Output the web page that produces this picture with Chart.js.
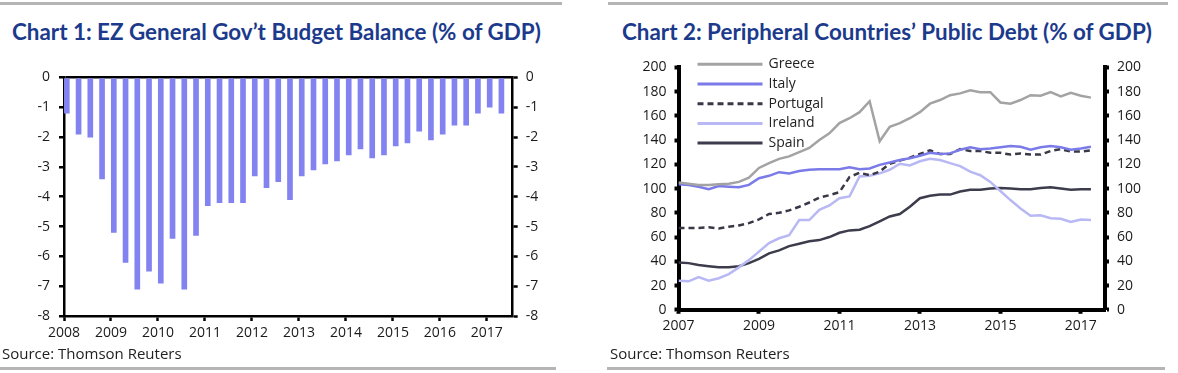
<!DOCTYPE html>
<html>
<head>
<meta charset="utf-8">
<script src="https://cdn.jsdelivr.net/npm/chart.js@4.4.1/dist/chart.umd.min.js"></script>
<style>
  body { margin: 0; background: #fff; width: 1178px; height: 373px; position: relative; overflow: hidden; font-family: "Open Sans", sans-serif; }
  .rule { position: absolute; height: 3px; background: #b5b5b5; }
  .title { position: absolute; top: 18px; font: bold 22.4px Lato, sans-serif; color: #1c3a8c; white-space: nowrap; }
  .source { position: absolute; top: 343px; font-size: 15px; color: #222; white-space: nowrap; }
  canvas { position: absolute; }
</style>
</head>
<body>
<div class="rule" style="left:0; top:2px; width:562px;"></div>
<div class="rule" style="left:608px; top:2px; width:560px;"></div>
<div class="title" style="left:12px;">Chart 1: EZ General Gov’t Budget Balance (% of GDP)</div>
<div class="title" style="left:622px;">Chart 2: Peripheral Countries’ Public Debt (% of GDP)</div>
<canvas id="grafica1" width="590" height="290" style="left:0; top:60px;"></canvas>
<canvas id="grafica2" width="580" height="300" style="left:598px; top:50px;"></canvas>
<div class="source" style="left:2px;">Source: Thomson Reuters</div>
<div class="source" style="left:610px;">Source: Thomson Reuters</div>
<div class="rule" style="left:0; top:367px; width:556px;"></div>
<div class="rule" style="left:607px; top:367px; width:558px;"></div>
<script>
// chart 1 - EZ budget balance, quarterly
const budgetQuarters = [
  '2008Q1','2008Q2','2008Q3','2008Q4','2009Q1','2009Q2','2009Q3','2009Q4',
  '2010Q1','2010Q2','2010Q3','2010Q4','2011Q1','2011Q2','2011Q3','2011Q4',
  '2012Q1','2012Q2','2012Q3','2012Q4','2013Q1','2013Q2','2013Q3','2013Q4',
  '2014Q1','2014Q2','2014Q3','2014Q4','2015Q1','2015Q2','2015Q3','2015Q4',
  '2016Q1','2016Q2','2016Q3','2016Q4','2017Q1','2017Q2'
];
const budgetBalance = [
  -1.2, -1.9, -2.0, -3.4, -5.2, -6.2, -7.1, -6.5,
  -6.9, -5.4, -7.1, -5.3, -4.3, -4.2, -4.2, -4.2,
  -3.3, -3.7, -3.5, -4.1, -3.3, -3.1, -2.9, -2.8,
  -2.6, -2.4, -2.7, -2.6, -2.3, -2.2, -1.8, -2.1,
  -1.9, -1.6, -1.6, -1.2, -1.0, -1.2
];
const chart1Years = [2008, 2009, 2010, 2011, 2012, 2013, 2014, 2015, 2016, 2017];
const chart1YTicks = [0, -1, -2, -3, -4, -5, -6, -7, -8];

// chart 2 - public debt, quarterly
const debtQuarters = [
  '2007Q1','2007Q2','2007Q3','2007Q4','2008Q1','2008Q2','2008Q3','2008Q4',
  '2009Q1','2009Q2','2009Q3','2009Q4','2010Q1','2010Q2','2010Q3','2010Q4',
  '2011Q1','2011Q2','2011Q3','2011Q4','2012Q1','2012Q2','2012Q3','2012Q4',
  '2013Q1','2013Q2','2013Q3','2013Q4','2014Q1','2014Q2','2014Q3','2014Q4',
  '2015Q1','2015Q2','2015Q3','2015Q4','2016Q1','2016Q2','2016Q3','2016Q4',
  '2017Q1','2017Q2'
];
const greece = [
  105, 104, 103, 103, 103.5, 104, 105.5, 109, 117, 121, 124.5, 126.5,
  130, 133.5, 140, 145.5, 154, 158, 163, 172, 139, 151, 154, 158,
  163, 170, 173, 177, 178.5, 181, 179.5, 179.5, 171, 170, 173, 177,
  176.5, 179.5, 176, 179, 176.5, 175
];
const italy = [
  103.5, 103, 101.5, 99.5, 102, 101.5, 101, 103, 108.5, 110.5, 113.5, 112.5,
  114.5, 115.5, 116, 116, 116, 117.5, 116, 116.5, 119.5, 121.5, 123.5, 125,
  127, 129.5, 128.5, 129, 132, 134, 132.5, 133, 134, 135, 134.5, 132,
  134, 135, 134, 132, 133, 134.5
];
const portugal = [
  67.5, 67.5, 67.5, 68, 67, 68.5, 69.5, 71.5, 74.5, 79, 80, 82,
  85, 88.5, 92.5, 94.5, 97, 109.5, 113, 111, 114, 120.5, 123, 125.5,
  128.5, 131.5, 128.5, 128.5, 132.5, 131, 131, 129.5, 129.5, 128, 129, 128,
  128, 131, 132.5, 130.5, 130.5, 131.5
];
const ireland = [
  24, 23.5, 27, 24, 26, 29.5, 35, 41, 48, 55, 59, 61.5,
  74, 74, 82.5, 86, 92, 93.5, 110, 110.5, 112.5, 115.5, 120.5, 119,
  122.5, 124.5, 123.5, 121, 118.5, 114, 111, 105.5, 98, 90.5, 83.5, 77.5,
  78, 75.5, 75, 72.5, 74.5, 74
];
const spain = [
  39, 38.5, 37, 36, 35, 35, 36, 38.5, 42, 46.5, 49, 52.5,
  54.5, 56.5, 57.5, 60, 63.5, 65.5, 66, 69, 73, 77, 79, 85,
  92, 94, 95, 95, 97.5, 99, 99, 100, 100.5, 100, 99.5, 99.5,
  100.5, 101, 100, 99, 99.5, 99.5
];
const chart2Years = [2007, 2009, 2011, 2013, 2015, 2017];
const chart2YTicks = [0, 20, 40, 60, 80, 100, 120, 140, 160, 180, 200];

// '2008Q3' -> 2008.5
function quarterToYear(q) {
  return parseInt(q.slice(0, 4)) + (parseInt(q.slice(5)) - 1) / 4;
}

const tickFont = { family: "'Open Sans', sans-serif", size: 14 };
const tickColor = '#1a1a1a';
const setTicks = (values) => (scale) => { scale.ticks = values.map((v) => ({ value: v })); };

// bars sit a little right of the quarter start in the original
const BAR_SHIFT = 0.06;

new Chart(document.getElementById('grafica1'), {
  type: 'bar',
  data: {
    datasets: [{
      label: 'Budget balance',
      data: budgetQuarters.map((q, i) => ({ x: quarterToYear(q) + BAR_SHIFT, y: budgetBalance[i] })),
      backgroundColor: '#8282f0',
      barThickness: 5,
    }],
  },
  options: {
    responsive: false,
    animation: false,
    devicePixelRatio: 1,
    layout: { padding: { top: 15, left: 0, right: 0, bottom: 0 } },
    plugins: { legend: { display: false }, tooltip: { enabled: false } },
    scales: {
      x: {
        type: 'linear', min: 2008, max: 2017.55, offset: false,
        afterBuildTicks: setTicks(chart1Years),
        afterFit: (s) => { s.height = 34; },
        ticks: { callback: (v) => String(v), font: tickFont, color: tickColor, padding: 4, maxRotation: 0, autoSkip: false },
        grid: { offset: false, drawOnChartArea: false, tickLength: 5, tickColor: '#000', tickWidth: 2.5 },
        border: { color: '#000', width: 2.5 },
      },
      y: {
        position: 'left', min: -8, max: 0,
        afterBuildTicks: setTicks(chart1YTicks),
        afterFit: (s) => { s.width = 64; },
        ticks: { font: tickFont, color: tickColor, padding: 9 },
        grid: {
          color: (ctx) => (ctx.tick && ctx.tick.value === 0 ? '#000' : 'rgba(0,0,0,0)'),
          lineWidth: 2.5, tickLength: 5, tickColor: '#000', tickWidth: 2.5,
        },
        border: { color: '#000', width: 2.5 },
      },
      y2: {
        position: 'right', min: -8, max: 0,
        afterBuildTicks: setTicks(chart1YTicks),
        afterFit: (s) => { s.width = 77.3; },
        ticks: { font: tickFont, color: tickColor, padding: 8 },
        grid: { drawOnChartArea: false, tickLength: 5, tickColor: '#000', tickWidth: 2.5 },
        border: { color: '#000', width: 2.5 },
      },
    },
  },
});

// legend drawn inside the plot, top-left, like the original
const insideLegend = {
  id: 'insideLegend',
  afterDraw(chart) {
    const { ctx, chartArea } = chart;
    ctx.save();
    ctx.font = "14px 'Open Sans', sans-serif";
    ctx.textBaseline = 'middle';
    chart.data.datasets.forEach((ds, i) => {
      const y = chartArea.top - 3 + i * 19.7;
      const x0 = chartArea.left + 19;
      ctx.strokeStyle = ds.borderColor;
      ctx.lineWidth = ds.borderWidth + 0.5;
      ctx.setLineDash(ds.borderDash || []);
      ctx.beginPath();
      ctx.moveTo(x0, y);
      ctx.lineTo(x0 + 65, y);
      ctx.stroke();
      ctx.setLineDash([]);
      ctx.fillStyle = '#222';
      ctx.fillText(ds.label, x0 + 71, y);
    });
    ctx.restore();
  },
};

const toPoints = (values) => debtQuarters.map((q, i) => ({ x: quarterToYear(q), y: values[i] }));

new Chart(document.getElementById('grafica2'), {
  type: 'line',
  data: {
    datasets: [
      { label: 'Greece', data: toPoints(greece), borderColor: '#a3a3a3', borderWidth: 2.5 },
      { label: 'Italy', data: toPoints(italy), borderColor: '#7a7ae8', borderWidth: 2.5 },
      { label: 'Portugal', data: toPoints(portugal), borderColor: '#383846', borderWidth: 2.5, borderDash: [6, 4] },
      { label: 'Ireland', data: toPoints(ireland), borderColor: '#b8b8f4', borderWidth: 2.5 },
      { label: 'Spain', data: toPoints(spain), borderColor: '#3c3c4c', borderWidth: 2.5 },
    ],
  },
  options: {
    responsive: false,
    animation: false,
    devicePixelRatio: 1,
    elements: { point: { radius: 0 }, line: { tension: 0 } },
    layout: { padding: { top: 17.3, left: 0, right: 0, bottom: 0 } },
    plugins: { legend: { display: false }, tooltip: { enabled: false } },
    scales: {
      x: {
        type: 'linear', min: 2007, max: 2017.6,
        afterBuildTicks: setTicks(chart2Years),
        afterFit: (s) => { s.height = 40.2; },
        ticks: { callback: (v) => String(v), font: tickFont, color: tickColor, padding: 4, maxRotation: 0, autoSkip: false },
        grid: { drawOnChartArea: false, tickLength: 4, tickColor: '#000', tickWidth: 4 },
        border: { color: '#000', width: 4 },
      },
      y: {
        position: 'left', min: 0, max: 200,
        afterBuildTicks: setTicks(chart2YTicks),
        afterFit: (s) => { s.width = 80.5; },
        ticks: { font: tickFont, color: tickColor, padding: 8 },
        grid: { drawOnChartArea: false, tickLength: 4, tickColor: '#000', tickWidth: 4 },
        border: { color: '#000', width: 4 },
      },
      y2: {
        position: 'right', min: 0, max: 200,
        afterBuildTicks: setTicks(chart2YTicks),
        afterFit: (s) => { s.width = 73; },
        ticks: { font: tickFont, color: tickColor, padding: 8 },
        grid: { drawOnChartArea: false, tickLength: 4, tickColor: '#000', tickWidth: 4 },
        border: { color: '#000', width: 4 },
      },
    },
  },
  plugins: [insideLegend],
});
</script>
</body>
</html>
